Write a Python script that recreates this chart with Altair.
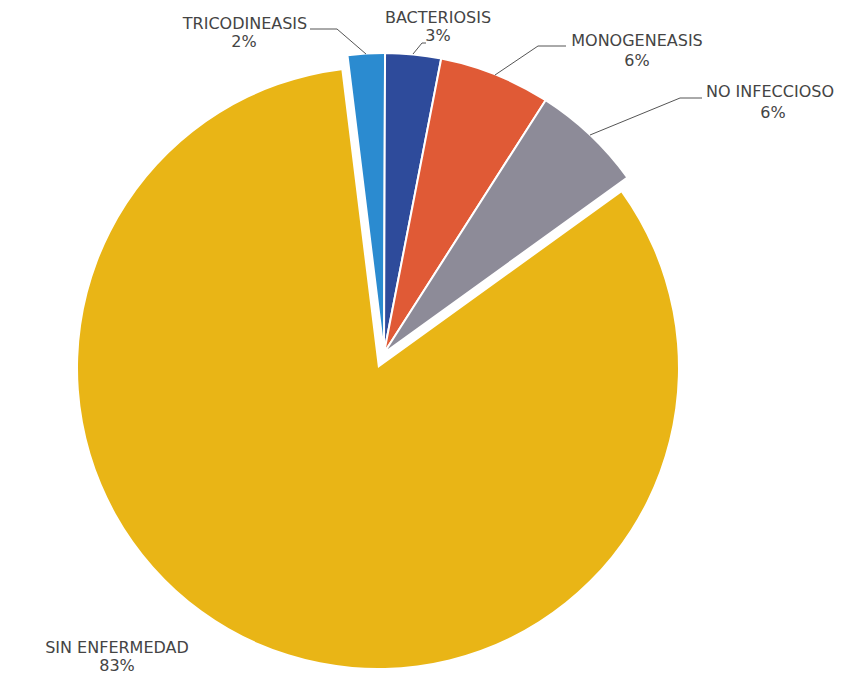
import math
import altair as alt
import pandas as pd

# ---- data ----
categories = ["TRICODINEASIS", "BACTERIOSIS", "MONOGENEASIS", "NO INFECCIOSO", "SIN ENFERMEDAD"]
percents = [2, 3, 6, 6, 83]
colors = ["#2B8BD0", "#2E4B9B", "#E05A36", "#8D8B98", "#E9B516"]

df = pd.DataFrame({"cat": categories, "pct": percents, "ord": list(range(len(categories)))})

# ---- layout (pixels in chart coordinates) ----
W, H = 845, 669
R = 300
main_center = (370, 360)
explode_center = (376, 345)
start = -7 * math.pi / 180

label_pos = {
    "TRICODINEASIS": (237, 16, 236, 34),
    "BACTERIOSIS": (430, 10, 430, 28),
    "MONOGENEASIS": (629, 33, 629, 53),
    "NO INFECCIOSO": (762, 84, 765, 105),
    "SIN ENFERMEDAD": (109, 640, 109, 658),
}
leaders = [
    (302, 21, 329, 21), (329, 21, 358, 46),
    (418, 35, 414, 35), (414, 35, 405, 46),
    (558, 38, 530, 38), (530, 38, 487, 67),
    (694, 90, 672, 90), (672, 90, 582, 127),
]

theta_scale = alt.Scale(range=[start, start + 2 * math.pi])
color = alt.Color("cat:N", scale=alt.Scale(domain=categories, range=colors), legend=None)

base = alt.Chart(df).encode(
    theta=alt.Theta("pct:Q", stack=True, scale=theta_scale),
    order=alt.Order("ord:Q"),
    color=color,
)

big = base.mark_arc(radius=R).encode(
    x=alt.value(main_center[0]), y=alt.value(main_center[1]),
    opacity=alt.condition(alt.datum.cat == "SIN ENFERMEDAD", alt.value(1), alt.value(0)),
)
small = base.mark_arc(radius=R, stroke="white", strokeWidth=2).encode(
    x=alt.value(explode_center[0]), y=alt.value(explode_center[1]),
    opacity=alt.condition(alt.datum.cat != "SIN ENFERMEDAD", alt.value(1), alt.value(0)),
)

lab_rows = []
for c, p in zip(categories, percents):
    x1, y1, x2, y2 = label_pos[c]
    lab_rows.append({"t": c, "x": x1, "y": y1})
    lab_rows.append({"t": f"{p}%", "x": x2, "y": y2})
lab_df = pd.DataFrame(lab_rows)

labels = alt.Chart(lab_df).mark_text(
    font="DejaVu Sans", fontSize=16, color="#444444", align="center", baseline="middle"
).encode(
    x=alt.X("x:Q", scale=None, axis=None),
    y=alt.Y("y:Q", scale=None, axis=None),
    text="t:N",
)

lead_df = pd.DataFrame(leaders, columns=["x", "y", "x2", "y2"])
lines = alt.Chart(lead_df).mark_rule(color="#555555", strokeWidth=1).encode(
    x=alt.X("x:Q", scale=None, axis=None),
    y=alt.Y("y:Q", scale=None, axis=None),
    x2="x2:Q",
    y2="y2:Q",
)

chart = alt.layer(big, small, lines, labels).properties(
    width=W, height=H, padding=0, autosize="none"
).configure_view(stroke=None)

chart.save("out.html", embed_options={"renderer": "svg", "actions": False})
